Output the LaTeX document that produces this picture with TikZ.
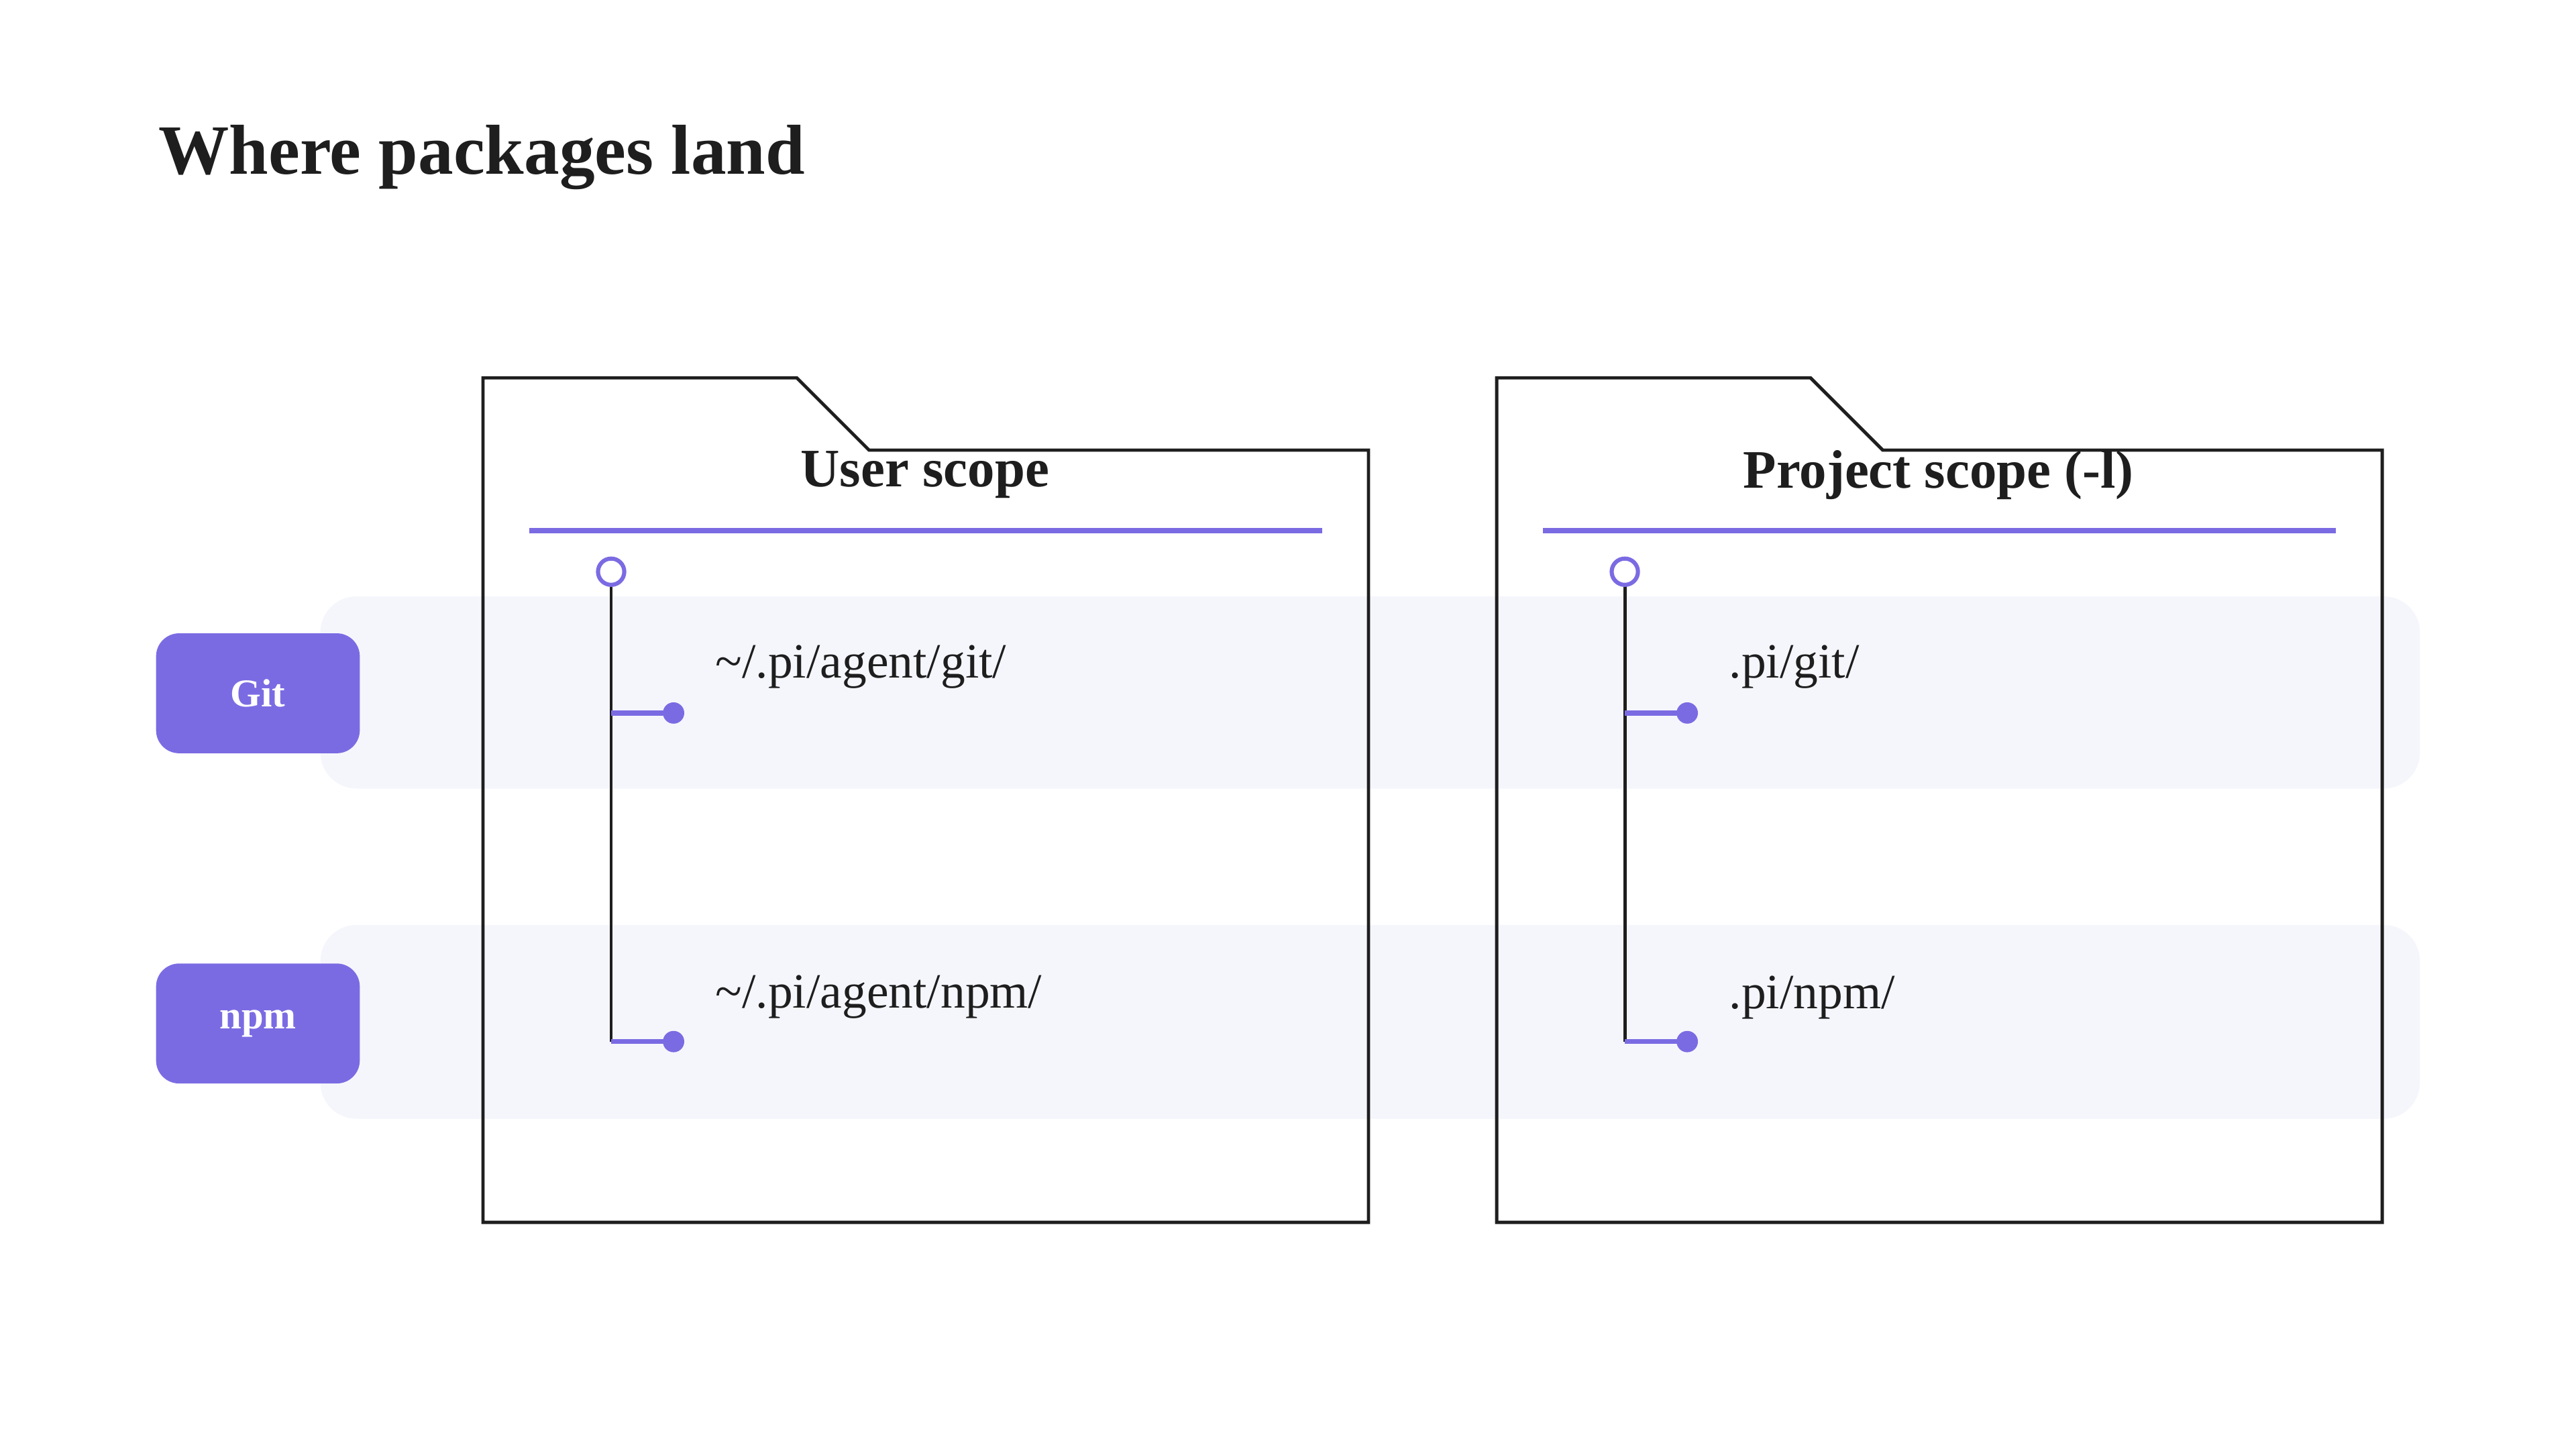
\documentclass[tikz,border=0pt]{standalone}
\usepackage{fontspec}
\setmainfont{Liberation Serif}
\definecolor{pill}{HTML}{7B6BE3}
\definecolor{band}{HTML}{F5F6FC}
\definecolor{ink}{HTML}{1E1E1E}
\tikzset{
  folder/.style={draw=ink, line width=2pt},
  tag/.style={fill=pill, rounded corners=14pt, minimum width=124pt, minimum height=73pt, text=white, font=\fontsize{24}{28}\selectfont\bfseries},
  path/.style={anchor=west, text=ink, font=\fontsize{30}{36}\selectfont},
  head/.style={text=ink, font=\fontsize{33}{40}\selectfont\bfseries},
}
\begin{document}
\begin{tikzpicture}[x=1pt, y=-1pt]
  \useasboundingbox (0, 0) rectangle (1568, 882);
  \node[anchor=base west, text=ink, font=\fontsize{43}{50}\selectfont\bfseries] (title) at (93, 106) {Where packages land};

  % rows
  \fill[band, rounded corners=22pt] (195, 363) rectangle (1473, 480);
  \fill[band, rounded corners=22pt] (195, 563) rectangle (1473, 681);
  \node[tag] (git) at (157, 422) {Git};
  \node[tag] (npm) at (157, 623) {npm};

  % folders
  \foreach \dx/\name/\lbl/\pa/\pb in {0/user/{User scope}/{\textasciitilde/.pi/agent/git/}/{\textasciitilde/.pi/agent/npm/},
                                       617/proj/{Project scope (-l)}/{.pi/git/}/{.pi/npm/}} {
    \begin{scope}[xshift=\dx]
      \draw[folder] (294, 230) -- (485, 230) -- (529, 274) -- (833, 274) -- (833, 744) -- (294, 744) -- cycle;
      \node[head] (\name-head) at (563, 289) {\lbl};
      \draw[pill, line width=3pt] (322, 323) -- (805, 323);
      \coordinate (\name-top) at (372, 356);
      \coordinate (\name-a) at (410, 434);
      \coordinate (\name-b) at (410, 634);
      \draw[ink, line width=2pt] (\name-top) -- (372, 634);
      \draw[pill, line width=3pt] (372, 434) -- (\name-a);
      \draw[pill, line width=3pt] (372, 634) -- (\name-b);
      \draw[pill, line width=2.5pt, fill=white] (372, 348) circle (8);
      \fill[pill] (\name-a) circle (6.5);
      \fill[pill] (\name-b) circle (6.5);
      \node[path] (\name-git) at (432, 406) {\pa};
      \node[path] (\name-npm) at (432, 607) {\pb};
    \end{scope}
  }
\end{tikzpicture}
\end{document}
